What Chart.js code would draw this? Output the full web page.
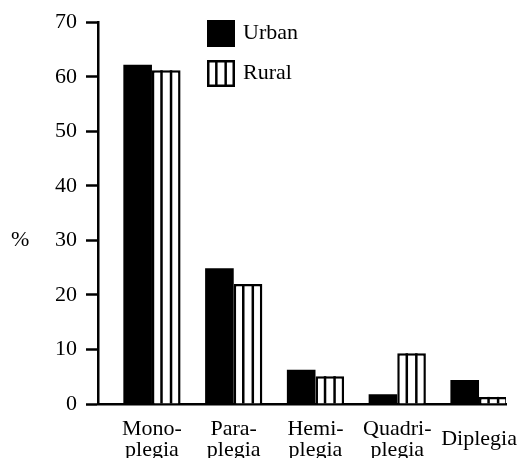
<!DOCTYPE html>
<html>
<head>
    <meta charset="utf-8">
    <title>Urban / Rural</title>
    <style>
        html, body { margin: 0; padding: 0; background: #fff; }
        .wrap { width: 517px; height: 458px; position: relative; }
    </style>
</head>
<body>
    <div class="wrap"><canvas id="chart"></canvas></div>

    <script src="https://cdn.jsdelivr.net/npm/chart.js"></script>
    <script>
        // data (%)
        var categories = ['Monoplegia', 'Paraplegia', 'Hemiplegia', 'Quadriplegia', 'Diplegia'];
        var tickLabels = [['Mono-', 'plegia'], ['Para-', 'plegia'], ['Hemi-', 'plegia'], ['Quadri-', 'plegia'], 'Diplegia'];
        var urban = [62.2, 24.9, 6.3, 1.8, 4.4];
        var rural = [61.2, 22.0, 5.1, 9.3, 1.3];
        var yTicks = [0, 10, 20, 30, 40, 50, 60, 70];

        var serif = '"Liberation Serif", "Times New Roman", serif';

        function points(arr) {
            return arr.map(function(v, i) { return { x: i + 1, y: v }; });
        }

        // vertical stripes inside the rural bars + legend + "%" label
        var extras = {
            id: 'extras',
            afterDatasetsDraw: function(chart) {
                var ctx = chart.ctx;
                var meta = chart.getDatasetMeta(1);
                ctx.save();
                ctx.strokeStyle = '#000';
                ctx.lineWidth = 2.5;
                meta.data.forEach(function(bar) {
                    var p = bar.getProps(['x', 'y', 'base', 'width'], true);
                    var left = p.x - p.width / 2;
                    for (var k = 1; k < 3; k++) {
                        var xx = left + p.width * k / 3;
                        ctx.beginPath();
                        ctx.moveTo(xx, p.y);
                        ctx.lineTo(xx, p.base);
                        ctx.stroke();
                    }
                });
                ctx.restore();
            },
            afterDraw: function(chart) {
                var ctx = chart.ctx;
                ctx.save();
                ctx.font = '22px ' + serif;
                ctx.fillStyle = '#000';
                ctx.textBaseline = 'middle';
                ctx.textAlign = 'left';
                ctx.fillText('%', 11, 240);

                chart.data.datasets.forEach(function(ds, i) {
                    var bx = 207, by = 20 + i * 40, bw = 28, bh = 27;
                    ctx.fillStyle = ds.backgroundColor;
                    ctx.fillRect(bx, by, bw, bh);
                    ctx.strokeStyle = '#000';
                    ctx.lineWidth = 2.5;
                    ctx.strokeRect(bx + 1.25, by + 1.25, bw - 2.5, bh - 2.5);
                    if (i === 1) {
                        for (var k = 1; k < 3; k++) {
                            var xx = bx + bw * k / 3;
                            ctx.beginPath();
                            ctx.moveTo(xx, by);
                            ctx.lineTo(xx, by + bh);
                            ctx.stroke();
                        }
                    }
                    ctx.fillStyle = '#000';
                    ctx.fillText(ds.label, 243, by + bh / 2);
                });
                ctx.restore();
            }
        };

        var ctx = document.getElementById('chart').getContext('2d');
        var myChart = new Chart(ctx, {
            type: 'bar',
            data: {
                datasets: [{
                    label: 'Urban',
                    data: points(urban),
                    backgroundColor: '#000',
                    borderColor: '#000',
                    borderWidth: 0
                }, {
                    label: 'Rural',
                    data: points(rural),
                    backgroundColor: '#fff',
                    borderColor: '#000',
                    borderWidth: 2.5
                }]
            },
            options: {
                responsive: true,
                maintainAspectRatio: false,
                animation: false,
                categoryPercentage: 0.7,
                barPercentage: 1.0,
                layout: { padding: { top: 18, right: 11, left: 0, bottom: 0 } },
                plugins: {
                    legend: { display: false },
                    tooltip: { enabled: false }
                },
                scales: {
                    x: {
                        type: 'linear',
                        offset: false,
                        min: 0.34,
                        max: 5.33,
                        grid: { display: false, drawTicks: false, offset: false },
                        border: { display: true, color: '#000', width: 2.5 },
                        ticks: {
                            stepSize: 1,
                            includeBounds: false,
                            autoSkip: false,
                            maxRotation: 0,
                            crossAlign: 'center',
                            padding: 25,
                            color: '#000',
                            font: { family: serif, size: 22, lineHeight: 0.95 },
                            callback: function(v) { return tickLabels[v - 1]; }
                        },
                        afterFit: function(s) {
                            s.height = 54;
                            s.paddingLeft = 0;
                            s.paddingRight = 0;
                        }
                    },
                    y: {
                        min: 0,
                        max: 70,
                        grid: {
                            drawOnChartArea: false,
                            drawTicks: true,
                            tickLength: 12,
                            tickWidth: 2.5,
                            tickColor: '#000'
                        },
                        border: { display: true, color: '#000', width: 2.5 },
                        afterBuildTicks: function(s) {
                            s.ticks = yTicks.map(function(v) { return { value: v }; });
                        },
                        ticks: {
                            padding: 9,
                            color: '#000',
                            font: { family: serif, size: 22 }
                        },
                        afterFit: function(s) { s.width = 98; }
                    }
                }
            },
            plugins: [extras]
        });
    </script>
</body>
</html>
